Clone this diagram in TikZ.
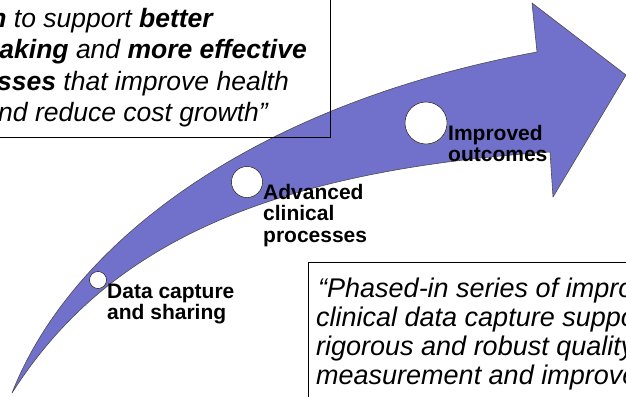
\documentclass[tikz,border=0pt]{standalone}
\usepackage{fontspec}
\setmainfont{Liberation Sans}
\usetikzlibrary{shadows}

\definecolor{arrowblue}{RGB}{113,113,204}

\begin{document}
\begin{tikzpicture}[x=1pt, y=-1pt, thin,
  stage/.style = {circle, draw, fill=white, inner sep=0pt, drop shadow={shadow xshift=0.9pt, shadow yshift=-0.9pt, opacity=0.6}},
  steplabel/.style = {anchor=base west, inner sep=0pt, font=\fontsize{21}{21}\selectfont\bfseries},
  quoteline/.style = {inner sep=0pt, font=\fontsize{27}{31}\selectfont\itshape},
  goalline/.style = {quoteline, anchor=base east, font=\fontsize{26.5}{31}\selectfont\itshape}]
\useasboundingbox (0,0) rectangle (626,396);
\clip (0,0) rectangle (626,396);

% the big curved arrow
\draw[fill=arrowblue, draw=black!70, line width=0.6pt, line join=round]
  (12,393) .. controls (70,245) and (250,105) .. (537,52) -- (532,3) -- (626,75)
  -- (553,197) -- (550,152) .. controls (250,172) and (100,255) .. (12,393) -- cycle;

% stages along the arrow
\node[stage, minimum size=17pt] (capture) at (98,280) {};
\node[stage, minimum size=31pt] (clinical) at (247,182) {};
\node[stage, minimum size=42pt] (outcomes) at (426,123) {};

\node[steplabel] (capturetxt) at (107,298) {Data capture};
\node[steplabel] (capturetxt2) at (107,319) {and sharing};
\node[steplabel] (clinicaltxt) at (263,199) {Advanced};
\node[steplabel] (clinicaltxt2) at (263,220.5) {clinical};
\node[steplabel] (clinicaltxt3) at (263,242) {processes};
\node[steplabel] (outcomestxt) at (448,140) {Improved};
\node[steplabel] (outcomestxt2) at (448,161.5) {outcomes};

% quote boxes
\draw[line width=0.8pt] (-5,-5) rectangle (330,137);
\node[goalline] (goal1) at (213,28) {\textbf{n} to support \textbf{better}};
\node[goalline] (goal2) at (307,59) {\textbf{aking} and \textbf{more effective}};
\node[goalline] (goal3) at (289,90) {\textbf{sses} that improve health};
\node[goalline] (goal4) at (268,121) {nd reduce cost growth”};

\draw[line width=0.8pt] (308,262) rectangle (640,410);
\node[quoteline, anchor=base west] (phase1) at (318,297) {“Phased-in series of impro};
\node[quoteline, anchor=base west] (phase2) at (316,326) {clinical data capture suppo};
\node[quoteline, anchor=base west] (phase3) at (316,355) {rigorous and robust quality};
\node[quoteline, anchor=base west] (phase4) at (316,384) {measurement and improve};
\end{tikzpicture}
\end{document}
